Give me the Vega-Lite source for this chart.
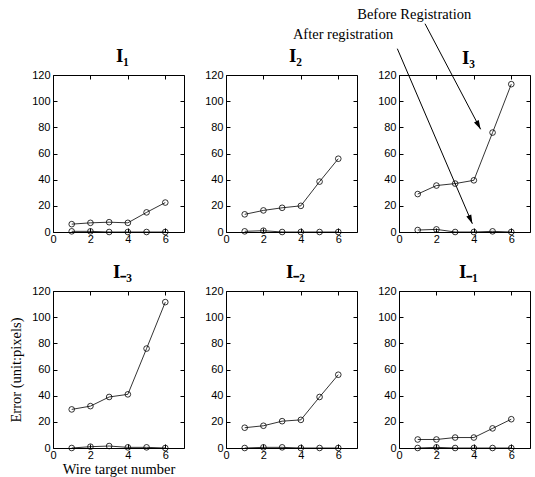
{
  "$schema": "https://vega.github.io/schema/vega-lite/v6.json",
  "background": "white",
  "padding": {"left": 8, "top": 6, "right": 2, "bottom": 4},
  "datasets": {
    "errors": [
      {"panel": "I1", "series": "before", "wire": 1, "error": 6},
      {"panel": "I1", "series": "before", "wire": 2, "error": 7},
      {"panel": "I1", "series": "before", "wire": 3, "error": 7.5},
      {"panel": "I1", "series": "before", "wire": 4, "error": 7},
      {"panel": "I1", "series": "before", "wire": 5, "error": 15},
      {"panel": "I1", "series": "before", "wire": 6, "error": 22.5},
      {"panel": "I1", "series": "after", "wire": 1, "error": 0.5},
      {"panel": "I1", "series": "after", "wire": 2, "error": 0.5},
      {"panel": "I1", "series": "after", "wire": 3, "error": 0},
      {"panel": "I1", "series": "after", "wire": 4, "error": 0},
      {"panel": "I1", "series": "after", "wire": 5, "error": 0},
      {"panel": "I1", "series": "after", "wire": 6, "error": 0},
      {"panel": "I2", "series": "before", "wire": 1, "error": 13.5},
      {"panel": "I2", "series": "before", "wire": 2, "error": 16.5},
      {"panel": "I2", "series": "before", "wire": 3, "error": 18.5},
      {"panel": "I2", "series": "before", "wire": 4, "error": 20},
      {"panel": "I2", "series": "before", "wire": 5, "error": 38.5},
      {"panel": "I2", "series": "before", "wire": 6, "error": 56},
      {"panel": "I2", "series": "after", "wire": 1, "error": 0.5},
      {"panel": "I2", "series": "after", "wire": 2, "error": 1},
      {"panel": "I2", "series": "after", "wire": 3, "error": 0},
      {"panel": "I2", "series": "after", "wire": 4, "error": 0},
      {"panel": "I2", "series": "after", "wire": 5, "error": 0},
      {"panel": "I2", "series": "after", "wire": 6, "error": 0},
      {"panel": "I3", "series": "before", "wire": 1, "error": 29},
      {"panel": "I3", "series": "before", "wire": 2, "error": 35.5},
      {"panel": "I3", "series": "before", "wire": 3, "error": 37},
      {"panel": "I3", "series": "before", "wire": 4, "error": 39.5},
      {"panel": "I3", "series": "before", "wire": 5, "error": 76},
      {"panel": "I3", "series": "before", "wire": 6, "error": 113},
      {"panel": "I3", "series": "after", "wire": 1, "error": 1.5},
      {"panel": "I3", "series": "after", "wire": 2, "error": 2},
      {"panel": "I3", "series": "after", "wire": 3, "error": 0},
      {"panel": "I3", "series": "after", "wire": 4, "error": 0},
      {"panel": "I3", "series": "after", "wire": 5, "error": 0.5},
      {"panel": "I3", "series": "after", "wire": 6, "error": 0},
      {"panel": "Im3", "series": "before", "wire": 1, "error": 29.5},
      {"panel": "Im3", "series": "before", "wire": 2, "error": 32},
      {"panel": "Im3", "series": "before", "wire": 3, "error": 39},
      {"panel": "Im3", "series": "before", "wire": 4, "error": 41},
      {"panel": "Im3", "series": "before", "wire": 5, "error": 76},
      {"panel": "Im3", "series": "before", "wire": 6, "error": 111.5},
      {"panel": "Im3", "series": "after", "wire": 1, "error": 0},
      {"panel": "Im3", "series": "after", "wire": 2, "error": 1},
      {"panel": "Im3", "series": "after", "wire": 3, "error": 1.5},
      {"panel": "Im3", "series": "after", "wire": 4, "error": 0.5},
      {"panel": "Im3", "series": "after", "wire": 5, "error": 0.5},
      {"panel": "Im3", "series": "after", "wire": 6, "error": 0},
      {"panel": "Im2", "series": "before", "wire": 1, "error": 15.5},
      {"panel": "Im2", "series": "before", "wire": 2, "error": 17},
      {"panel": "Im2", "series": "before", "wire": 3, "error": 20.5},
      {"panel": "Im2", "series": "before", "wire": 4, "error": 21.5},
      {"panel": "Im2", "series": "before", "wire": 5, "error": 39},
      {"panel": "Im2", "series": "before", "wire": 6, "error": 56},
      {"panel": "Im2", "series": "after", "wire": 1, "error": 0},
      {"panel": "Im2", "series": "after", "wire": 2, "error": 0.5},
      {"panel": "Im2", "series": "after", "wire": 3, "error": 0.5},
      {"panel": "Im2", "series": "after", "wire": 4, "error": 0},
      {"panel": "Im2", "series": "after", "wire": 5, "error": 0},
      {"panel": "Im2", "series": "after", "wire": 6, "error": 0},
      {"panel": "Im1", "series": "before", "wire": 1, "error": 6.5},
      {"panel": "Im1", "series": "before", "wire": 2, "error": 6.5},
      {"panel": "Im1", "series": "before", "wire": 3, "error": 8},
      {"panel": "Im1", "series": "before", "wire": 4, "error": 8},
      {"panel": "Im1", "series": "before", "wire": 5, "error": 15},
      {"panel": "Im1", "series": "before", "wire": 6, "error": 22},
      {"panel": "Im1", "series": "after", "wire": 1, "error": 0},
      {"panel": "Im1", "series": "after", "wire": 2, "error": 0.5},
      {"panel": "Im1", "series": "after", "wire": 3, "error": 0},
      {"panel": "Im1", "series": "after", "wire": 4, "error": 0},
      {"panel": "Im1", "series": "after", "wire": 5, "error": 0},
      {"panel": "Im1", "series": "after", "wire": 6, "error": 0}
    ],
    "arrows": [
      {"arrow": "before", "x": 1.39, "y": 159.2, "x2": 4.36, "y2": 78.5},
      {"arrow": "after", "x": -0.09, "y": 140.1, "x2": 3.92, "y2": 6.3}
    ],
    "labels": [
      {"text": "Before Registration", "x": -2.23, "y": 162.8},
      {"text": "After registration", "x": -5.67, "y": 147.5}
    ],
    "panelTitle": [
      {"text": "I₃", "x": 3.5, "y": 128.4}
    ]
  },
  "data": {"name": "errors"},
  "columns": 3,
  "spacing": {"row": 59, "column": 42},
  "bounds": "flush",
  "concat": [
    {
      "width": 131, "height": 157,
      "title": {"text": "I₁"},
      "layer": [
        {
          "transform": [{"filter": "datum.panel === 'I1'"}],
          "mark": {"type": "line", "color": "black", "strokeWidth": 0.8, "point": {"filled": false, "color": "black", "size": 32, "strokeWidth": 0.8}},
          "encoding": {
            "x": {"field": "wire", "type": "quantitative", "scale": {"domain": [0, 7], "nice": false}, "axis": {"orient": "bottom", "values": [0, 2, 4, 6], "title": null}},
            "y": {"field": "error", "type": "quantitative", "scale": {"domain": [0, 120], "nice": false}, "axis": {"orient": "left", "values": [0, 20, 40, 60, 80, 100, 120], "title": null}},
            "detail": {"field": "series", "type": "nominal"}
          }
        },
        {
          "transform": [{"filter": "datum.panel === 'I1'"}],
          "mark": {"type": "point", "opacity": 0},
          "encoding": {
            "x": {"field": "wire", "type": "quantitative", "scale": {"domain": [0, 7], "nice": false}, "axis": {"orient": "top", "labels": false, "values": [0, 2, 4, 6], "title": null}},
            "y": {"field": "error", "type": "quantitative", "scale": {"domain": [0, 120], "nice": false}, "axis": {"orient": "right", "labels": false, "values": [0, 20, 40, 60, 80, 100, 120], "title": null}}
          }
        }
      ],
      "resolve": {"axis": {"x": "independent", "y": "independent"}}
    },
    {
      "width": 131, "height": 157,
      "title": {"text": "I₂"},
      "layer": [
        {
          "transform": [{"filter": "datum.panel === 'I2'"}],
          "mark": {"type": "line", "color": "black", "strokeWidth": 0.8, "point": {"filled": false, "color": "black", "size": 32, "strokeWidth": 0.8}},
          "encoding": {
            "x": {"field": "wire", "type": "quantitative", "scale": {"domain": [0, 7], "nice": false}, "axis": {"orient": "bottom", "values": [0, 2, 4, 6], "title": null}},
            "y": {"field": "error", "type": "quantitative", "scale": {"domain": [0, 120], "nice": false}, "axis": {"orient": "left", "values": [0, 20, 40, 60, 80, 100, 120], "title": null}},
            "detail": {"field": "series", "type": "nominal"}
          }
        },
        {
          "transform": [{"filter": "datum.panel === 'I2'"}],
          "mark": {"type": "point", "opacity": 0},
          "encoding": {
            "x": {"field": "wire", "type": "quantitative", "scale": {"domain": [0, 7], "nice": false}, "axis": {"orient": "top", "labels": false, "values": [0, 2, 4, 6], "title": null}},
            "y": {"field": "error", "type": "quantitative", "scale": {"domain": [0, 120], "nice": false}, "axis": {"orient": "right", "labels": false, "values": [0, 20, 40, 60, 80, 100, 120], "title": null}}
          }
        }
      ],
      "resolve": {"axis": {"x": "independent", "y": "independent"}}
    },
    {
      "width": 131, "height": 157,
      "layer": [
        {
          "transform": [{"filter": "datum.panel === 'I3'"}],
          "mark": {"type": "line", "color": "black", "strokeWidth": 0.8, "point": {"filled": false, "color": "black", "size": 32, "strokeWidth": 0.8}},
          "encoding": {
            "x": {"field": "wire", "type": "quantitative", "scale": {"domain": [0, 7], "nice": false}, "axis": {"orient": "bottom", "values": [0, 2, 4, 6], "title": null}},
            "y": {"field": "error", "type": "quantitative", "scale": {"domain": [0, 120], "nice": false}, "axis": {"orient": "left", "values": [0, 20, 40, 60, 80, 100, 120], "title": null}},
            "detail": {"field": "series", "type": "nominal"}
          }
        },
        {
          "transform": [{"filter": "datum.panel === 'I3'"}],
          "mark": {"type": "point", "opacity": 0},
          "encoding": {
            "x": {"field": "wire", "type": "quantitative", "scale": {"domain": [0, 7], "nice": false}, "axis": {"orient": "top", "labels": false, "values": [0, 2, 4, 6], "title": null}},
            "y": {"field": "error", "type": "quantitative", "scale": {"domain": [0, 120], "nice": false}, "axis": {"orient": "right", "labels": false, "values": [0, 20, 40, 60, 80, 100, 120], "title": null}}
          }
        },
        {
          "data": {"name": "panelTitle"},
          "mark": {"type": "text", "font": "Liberation Serif", "fontSize": 19, "fontWeight": "bold", "color": "black", "align": "center", "baseline": "alphabetic", "dx": 4},
          "encoding": {
            "x": {"field": "x", "type": "quantitative", "scale": {"domain": [0, 7], "nice": false}, "axis": null},
            "y": {"field": "y", "type": "quantitative", "scale": {"domain": [0, 120], "nice": false}, "axis": null},
            "text": {"field": "text"}
          }
        },
        {
          "data": {"name": "arrows"},
          "mark": {"type": "rule", "color": "black", "strokeWidth": 1},
          "encoding": {
            "x": {"field": "x", "type": "quantitative", "scale": {"domain": [0, 7], "nice": false}, "axis": null},
            "y": {"field": "y", "type": "quantitative", "scale": {"domain": [0, 120], "nice": false}, "axis": null},
            "x2": {"field": "x2"},
            "y2": {"field": "y2"}
          }
        },
        {
          "data": {"name": "arrows"},
          "transform": [{"filter": "datum.arrow === 'before'"}],
          "mark": {"type": "point", "shape": "M0,0L-0.3,1L0.3,1Z", "filled": true, "color": "black", "opacity": 1, "size": 324, "angle": 152},
          "encoding": {
            "x": {"field": "x2", "type": "quantitative", "scale": {"domain": [0, 7], "nice": false}, "axis": null},
            "y": {"field": "y2", "type": "quantitative", "scale": {"domain": [0, 120], "nice": false}, "axis": null}
          }
        },
        {
          "data": {"name": "arrows"},
          "transform": [{"filter": "datum.arrow === 'after'"}],
          "mark": {"type": "point", "shape": "M0,0L-0.3,1L0.3,1Z", "filled": true, "color": "black", "opacity": 1, "size": 324, "angle": 156.6},
          "encoding": {
            "x": {"field": "x2", "type": "quantitative", "scale": {"domain": [0, 7], "nice": false}, "axis": null},
            "y": {"field": "y2", "type": "quantitative", "scale": {"domain": [0, 120], "nice": false}, "axis": null}
          }
        },
        {
          "data": {"name": "labels"},
          "mark": {"type": "text", "font": "Liberation Serif", "fontSize": 14.5, "color": "black", "align": "left", "baseline": "alphabetic"},
          "encoding": {
            "x": {"field": "x", "type": "quantitative", "scale": {"domain": [0, 7], "nice": false}, "axis": null},
            "y": {"field": "y", "type": "quantitative", "scale": {"domain": [0, 120], "nice": false}, "axis": null},
            "text": {"field": "text"}
          }
        }
      ],
      "resolve": {"axis": {"x": "independent", "y": "independent"}}
    },
    {
      "width": 131, "height": 157,
      "title": {"text": "I₋₃"},
      "layer": [
        {
          "transform": [{"filter": "datum.panel === 'Im3'"}],
          "mark": {"type": "line", "color": "black", "strokeWidth": 0.8, "point": {"filled": false, "color": "black", "size": 32, "strokeWidth": 0.8}},
          "encoding": {
            "x": {"field": "wire", "type": "quantitative", "scale": {"domain": [0, 7], "nice": false}, "axis": {"orient": "bottom", "values": [0, 2, 4, 6], "title": "Wire target number"}},
            "y": {"field": "error", "type": "quantitative", "scale": {"domain": [0, 120], "nice": false}, "axis": {"orient": "left", "values": [0, 20, 40, 60, 80, 100, 120], "title": "Error (unit:pixels)"}},
            "detail": {"field": "series", "type": "nominal"}
          }
        },
        {
          "transform": [{"filter": "datum.panel === 'Im3'"}],
          "mark": {"type": "point", "opacity": 0},
          "encoding": {
            "x": {"field": "wire", "type": "quantitative", "scale": {"domain": [0, 7], "nice": false}, "axis": {"orient": "top", "labels": false, "values": [0, 2, 4, 6], "title": null}},
            "y": {"field": "error", "type": "quantitative", "scale": {"domain": [0, 120], "nice": false}, "axis": {"orient": "right", "labels": false, "values": [0, 20, 40, 60, 80, 100, 120], "title": null}}
          }
        }
      ],
      "resolve": {"axis": {"x": "independent", "y": "independent"}}
    },
    {
      "width": 131, "height": 157,
      "title": {"text": "I₋₂"},
      "layer": [
        {
          "transform": [{"filter": "datum.panel === 'Im2'"}],
          "mark": {"type": "line", "color": "black", "strokeWidth": 0.8, "point": {"filled": false, "color": "black", "size": 32, "strokeWidth": 0.8}},
          "encoding": {
            "x": {"field": "wire", "type": "quantitative", "scale": {"domain": [0, 7], "nice": false}, "axis": {"orient": "bottom", "values": [0, 2, 4, 6], "title": null}},
            "y": {"field": "error", "type": "quantitative", "scale": {"domain": [0, 120], "nice": false}, "axis": {"orient": "left", "values": [0, 20, 40, 60, 80, 100, 120], "title": null}},
            "detail": {"field": "series", "type": "nominal"}
          }
        },
        {
          "transform": [{"filter": "datum.panel === 'Im2'"}],
          "mark": {"type": "point", "opacity": 0},
          "encoding": {
            "x": {"field": "wire", "type": "quantitative", "scale": {"domain": [0, 7], "nice": false}, "axis": {"orient": "top", "labels": false, "values": [0, 2, 4, 6], "title": null}},
            "y": {"field": "error", "type": "quantitative", "scale": {"domain": [0, 120], "nice": false}, "axis": {"orient": "right", "labels": false, "values": [0, 20, 40, 60, 80, 100, 120], "title": null}}
          }
        }
      ],
      "resolve": {"axis": {"x": "independent", "y": "independent"}}
    },
    {
      "width": 131, "height": 157,
      "title": {"text": "I₋₁"},
      "layer": [
        {
          "transform": [{"filter": "datum.panel === 'Im1'"}],
          "mark": {"type": "line", "color": "black", "strokeWidth": 0.8, "point": {"filled": false, "color": "black", "size": 32, "strokeWidth": 0.8}},
          "encoding": {
            "x": {"field": "wire", "type": "quantitative", "scale": {"domain": [0, 7], "nice": false}, "axis": {"orient": "bottom", "values": [0, 2, 4, 6], "title": null}},
            "y": {"field": "error", "type": "quantitative", "scale": {"domain": [0, 120], "nice": false}, "axis": {"orient": "left", "values": [0, 20, 40, 60, 80, 100, 120], "title": null}},
            "detail": {"field": "series", "type": "nominal"}
          }
        },
        {
          "transform": [{"filter": "datum.panel === 'Im1'"}],
          "mark": {"type": "point", "opacity": 0},
          "encoding": {
            "x": {"field": "wire", "type": "quantitative", "scale": {"domain": [0, 7], "nice": false}, "axis": {"orient": "top", "labels": false, "values": [0, 2, 4, 6], "title": null}},
            "y": {"field": "error", "type": "quantitative", "scale": {"domain": [0, 120], "nice": false}, "axis": {"orient": "right", "labels": false, "values": [0, 20, 40, 60, 80, 100, 120], "title": null}}
          }
        }
      ],
      "resolve": {"axis": {"x": "independent", "y": "independent"}}
    }
  ],
  "config": {
    "view": {"stroke": "black", "strokeWidth": 1},
    "title": {"font": "Liberation Serif", "fontSize": 19, "fontWeight": "bold", "color": "black", "offset": 3, "dx": 4},
    "axis": {
      "grid": false,
      "domain": false,
      "ticks": true,
      "tickSize": -4,
      "tickColor": "black",
      "tickWidth": 1,
      "labelFont": "Liberation Sans",
      "labelFontSize": 11,
      "labelColor": "black",
      "labelFlush": false,
      "labelPadding": 5,
      "titleFont": "Liberation Serif",
      "titleFontSize": 14.5,
      "titleFontWeight": "normal",
      "titleColor": "black",
      "titlePadding": 2
    },
    "axisLeft": {"labelPadding": 7, "titlePadding": 8}
  }
}
